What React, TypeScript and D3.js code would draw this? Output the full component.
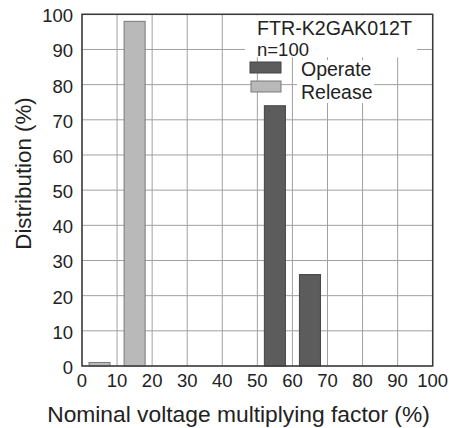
import React from "react";
import * as d3 from "d3";

const binCenters = [5, 15, 25, 35, 45, 55, 65, 75, 85, 95];
const operateValues = [0, 0, 0, 0, 0, 74, 26, 0, 0, 0];
const releaseValues = [1, 98, 0, 0, 0, 0, 0, 0, 0, 0];
const xTicks = [0, 10, 20, 30, 40, 50, 60, 70, 80, 90, 100];
const yTicks = [0, 10, 20, 30, 40, 50, 60, 70, 80, 90, 100];
const titleLines = ["FTR-K2GAK012T", "n=100"];
const legendLabels = ["Operate", "Release"];

const W = 449;
const H = 428;
const FONT = "'Liberation Sans', Arial, sans-serif";
const OPERATE_FILL = "#5c5c5c";
const OPERATE_STROKE = "#444";
const RELEASE_FILL = "#b9b9b9";
const RELEASE_STROKE = "#7a7a7a";

export default function App() {
  const x = d3.scaleLinear().domain([0, 100]).range([82, 432.7]);
  const y = d3.scaleLinear().domain([0, 100]).range([366, 14.3]);
  const barHalf = 3;

  const bars: { c: number; v: number; fill: string; stroke: string }[] = [];
  binCenters.forEach((c, i) => {
    if (releaseValues[i] > 0) bars.push({ c, v: releaseValues[i], fill: RELEASE_FILL, stroke: RELEASE_STROKE });
    if (operateValues[i] > 0) bars.push({ c, v: operateValues[i], fill: OPERATE_FILL, stroke: OPERATE_STROKE });
  });

  return (
    <svg
      width={W}
      height={H}
      style={{ position: "absolute", left: 0, top: 0, background: "#fff" }}
      fontFamily={FONT}
    >
      <rect x={0} y={0} width={W} height={H} fill="#fff" />
      {xTicks.map((t) => (
        <line key={"gx" + t} x1={x(t)} x2={x(t)} y1={y(0)} y2={y(100)} stroke="#a0a0a0" strokeWidth={1} />
      ))}
      {yTicks.map((t) => (
        <line key={"gy" + t} x1={x(0)} x2={x(100)} y1={y(t)} y2={y(t)} stroke="#a0a0a0" strokeWidth={1} />
      ))}
      <rect x={245} y={y(100) + 1} width={172} height={42} fill="#fff" />
      <rect x={297} y={60} width={77} height={43} fill="#fff" />
      {bars.map((b, i) => (
        <rect
          key={i}
          x={x(b.c - barHalf)}
          y={y(b.v)}
          width={x(b.c + barHalf) - x(b.c - barHalf)}
          height={y(0) - y(b.v)}
          fill={b.fill}
          stroke={b.stroke}
          strokeWidth={1}
        />
      ))}
      <rect
        x={x(0)}
        y={y(100)}
        width={x(100) - x(0)}
        height={y(0) - y(100)}
        fill="none"
        stroke="#3a3a3a"
        strokeWidth={1.5}
      />
      {yTicks.map((t) => (
        <text key={"yl" + t} x={73} y={y(t) + 8} textAnchor="end" fontSize={18.5} fill="#222">
          {t}
        </text>
      ))}
      {xTicks.map((t) => (
        <text key={"xl" + t} x={x(t)} y={387} textAnchor="middle" fontSize={18.5} fill="#222">
          {t}
        </text>
      ))}
      <text x={238.5} y={421.5} textAnchor="middle" fontSize={22.8} fill="#222">
        Nominal voltage multiplying factor (%)
      </text>
      <text
        transform={`translate(30.5,173.5) rotate(-90)`}
        textAnchor="middle"
        fontSize={22.3}
        fill="#222"
      >
        Distribution (%)
      </text>
      <text x={257} y={35} fontSize={19.5} fill="#222" textLength={155} lengthAdjust="spacingAndGlyphs">
        {titleLines[0]}
      </text>
      <text x={257} y={56} fontSize={18.5} fill="#222">
        {titleLines[1]}
      </text>
      <rect x={250} y={62} width={31} height={11} fill={OPERATE_FILL} stroke={OPERATE_STROKE} strokeWidth={1} />
      <rect x={251} y={81} width={30} height={11} fill={RELEASE_FILL} stroke={RELEASE_STROKE} strokeWidth={1} />
      <text x={301} y={76} fontSize={19.5} fill="#222">
        {legendLabels[0]}
      </text>
      <text x={301} y={99} fontSize={19.5} fill="#222">
        {legendLabels[1]}
      </text>
    </svg>
  );
}
